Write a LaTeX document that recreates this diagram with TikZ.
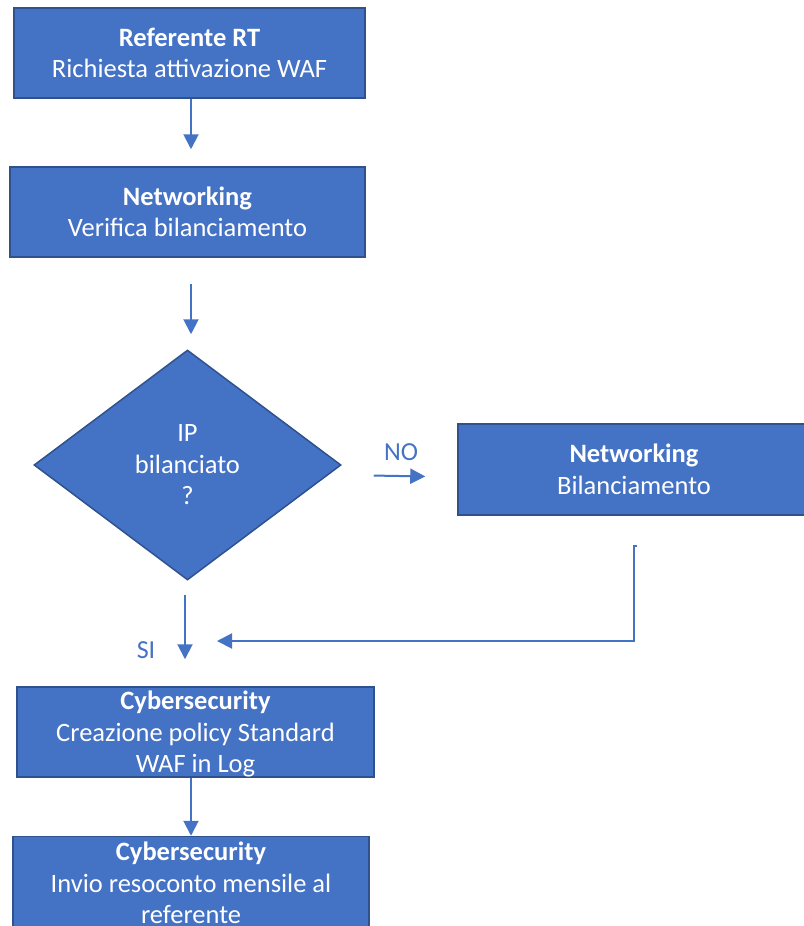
\documentclass[tikz,border=0pt]{standalone}
\usepackage{fontspec}
\setmainfont{Carlito}
\usetikzlibrary{shapes.geometric,arrows.meta}
\definecolor{boxblue}{HTML}{4472C4}
\definecolor{boxedge}{HTML}{2F528F}
\begin{document}
\begin{tikzpicture}[x=1pt,y=-1pt,
  box/.style={draw=boxedge,line width=1.5pt,fill=boxblue,text=white,align=center,inner sep=0pt,font=\fontsize{26.5}{31.5}\selectfont},
  boxtext/.style={text=white,align=center,inner sep=0pt,font=\fontsize{26.5}{31.5}\selectfont},
  conn/.style={draw=boxblue,line width=2pt,-{Triangle[length=15pt,width=15pt]}},
  lbl/.style={text=boxblue,font=\fontsize{26}{30}\selectfont,inner sep=0pt}]
\useasboundingbox (0,0) rectangle (803,926);

\node[box,minimum width=351pt,minimum height=90pt] (ref) at (189.5,53) {\textbf{Referente RT}\\Richiesta attivazione WAF};
\node[box,minimum width=355pt,minimum height=90pt] (net1) at (187.5,212) {\textbf{Networking}\\Verifica bilanciamento};
\node[box,diamond,minimum width=307pt,minimum height=230pt] (dec) at (187.5,465) {IP\\bilanciato\\?};
\node[box,minimum width=352pt,minimum height=91pt] (bal) at (634,469.5) {\textbf{Networking}\\Bilanciamento};
\node[box,minimum width=357pt,minimum height=90pt] (cyb1) at (195.5,732) {};
\node[boxtext] (cyb1t) at (195.5,734) {\textbf{Cybersecurity}\\Creazione policy Standard\\WAF in Log};
\node[box,minimum width=356pt,minimum height=93pt] (cyb2) at (191,883) {\textbf{Cybersecurity}\\Invio resoconto mensile al\\referente};

\node[lbl] (no) at (401,452) {NO};
\node[lbl] (si) at (146,650) {SI};
\coordinate (join) at (185,641);
\coordinate (loopstart) at ([yshift=-30pt]bal.south);

\draw[conn] ([xshift=1.5pt]ref.south) -- ([xshift=1.5pt,yshift=17pt]ref.south |- net1.north);
\draw[conn,shorten <=26pt,shorten >=15pt] ([xshift=3.5pt]net1.south) -- ([xshift=3.5pt]net1.south |- dec.north);
\draw[conn,shorten <=32pt,shorten >=32pt] ([yshift=-10pt]dec.east) -- ([yshift=-7.5pt]bal.west);
\draw[conn,shorten >=32pt] ([xshift=3pt]loopstart) -- (loopstart) |- (join);
\draw[conn,shorten <=14pt,shorten >=27pt] ([xshift=-2.5pt]dec.south) -- ([xshift=-2.5pt]dec.south |- cyb1.north);
\draw[conn] ([xshift=-4.5pt]cyb1.south) -- ([xshift=-4.5pt]cyb1.south |- cyb2.north);
\end{tikzpicture}
\end{document}
